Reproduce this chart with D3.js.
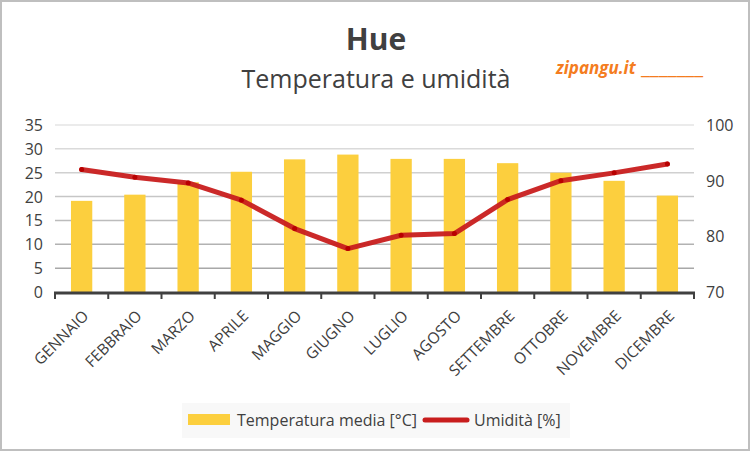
<!DOCTYPE html>
<html lang="it">
<head>
<meta charset="utf-8">
<title>Hue</title>
<script src="https://cdn.jsdelivr.net/npm/d3@7"></script>
<style>
body { margin: 0; background: #fff; }
svg { display: block; font-family: "Open Sans", sans-serif; }
</style>
</head>
<body>
<script>
// dati
var mesi = ["GENNAIO", "FEBBRAIO", "MARZO", "APRILE", "MAGGIO", "GIUGNO",
            "LUGLIO", "AGOSTO", "SETTEMBRE", "OTTOBRE", "NOVEMBRE", "DICEMBRE"];
var temperatura = [19.1, 20.4, 23.0, 25.2, 27.8, 28.8, 27.9, 27.9, 27.0, 25.0, 23.3, 20.2];
var umidita = [92.0, 90.6, 89.6, 86.5, 81.4, 77.8, 80.2, 80.5, 86.6, 90.0, 91.4, 93.0];
var tickSx = [0, 5, 10, 15, 20, 25, 30, 35];
var tickDx = [70, 80, 90, 100];

var w = 752, h = 452;
var plotL = 55, plotR = 694, plotT = 125, plotB = 292;

var svg = d3.select("body").append("svg")
    .attr("width", w)
    .attr("height", h);

// cornice
svg.append("rect")
    .attr("x", 1).attr("y", 1)
    .attr("width", w - 4).attr("height", h - 3)
    .attr("fill", "#fff")
    .attr("stroke", "#bfbfbf")
    .attr("stroke-width", 2);

var xScale = d3.scaleBand()
    .domain(mesi)
    .range([plotL, plotR])
    .paddingInner(0.6)
    .paddingOuter(0.3);

var xTicks = d3.scaleLinear().domain([0, mesi.length]).range([plotL, plotR]);

var yScale = d3.scaleLinear().domain([0, 35]).range([plotB, plotT]);
var y2Scale = d3.scaleLinear().domain([70, 100]).range([plotB, plotT]);

// griglia (più scura verso il basso)
var gridCol = d3.scaleLinear().domain([0, 35]).range(["#9e9e9e", "#e4e4e4"]);
svg.append("g").selectAll("line")
    .data(tickSx.filter(function(d) { return d > 0; }))
    .enter().append("line")
    .attr("x1", plotL).attr("x2", plotR)
    .attr("y1", function(d) { return yScale(d); })
    .attr("y2", function(d) { return yScale(d); })
    .attr("stroke", function(d) { return gridCol(d); })
    .attr("stroke-width", 1.5);

// barre
svg.append("g").selectAll("rect")
    .data(temperatura)
    .enter().append("rect")
    .attr("x", function(d, i) { return xScale(mesi[i]); })
    .attr("y", function(d) { return yScale(d); })
    .attr("width", xScale.bandwidth())
    .attr("height", function(d) { return plotB - yScale(d); })
    .attr("fill", "#fccf3e");

// asse x
svg.append("line")
    .attr("x1", plotL - 1).attr("x2", plotR + 1)
    .attr("y1", plotB + 1).attr("y2", plotB + 1)
    .attr("stroke", "#404040").attr("stroke-width", 3);
svg.append("g").selectAll("line")
    .data(d3.range(mesi.length + 1))
    .enter().append("line")
    .attr("x1", function(d) { return xTicks(d); })
    .attr("x2", function(d) { return xTicks(d); })
    .attr("y1", plotB).attr("y2", plotB + 7)
    .attr("stroke", "#404040").attr("stroke-width", 2);

svg.append("g").selectAll("text")
    .data(mesi)
    .enter().append("text")
    .attr("transform", function(d) {
        return "translate(" + (xScale(d) + xScale.bandwidth() / 2 + 8) + "," + (plotB + 25) + ") rotate(-45)";
    })
    .attr("text-anchor", "end")
    .attr("font-size", 15.5)
    .attr("fill", "#404040")
    .text(function(d) { return d; });

// assi y
svg.append("g").selectAll("text")
    .data(tickSx)
    .enter().append("text")
    .attr("x", 43)
    .attr("y", function(d) { return yScale(d) + 6; })
    .attr("text-anchor", "end")
    .attr("font-size", 16)
    .attr("fill", "#404040")
    .text(function(d) { return d; });

svg.append("g").selectAll("text")
    .data(tickDx)
    .enter().append("text")
    .attr("x", 706)
    .attr("y", function(d) { return y2Scale(d) + 6; })
    .attr("font-size", 16)
    .attr("fill", "#404040")
    .text(function(d) { return d; });

// linea umidità
var linea = d3.line()
    .x(function(d, i) { return xScale(mesi[i]) + xScale.bandwidth() / 2; })
    .y(function(d) { return y2Scale(d); });

svg.append("path")
    .datum(umidita)
    .attr("d", linea)
    .attr("fill", "none")
    .attr("stroke", "#c81d1d")
    .attr("stroke-opacity", 0.95)
    .attr("stroke-width", 5)
    .attr("stroke-linecap", "round")
    .attr("stroke-linejoin", "round");

svg.append("g").selectAll("circle")
    .data(umidita)
    .enter().append("circle")
    .attr("cx", function(d, i) { return xScale(mesi[i]) + xScale.bandwidth() / 2; })
    .attr("cy", function(d) { return y2Scale(d); })
    .attr("r", 2.5)
    .attr("fill", "#b80000");

// titoli
svg.append("text")
    .attr("x", 376).attr("y", 50)
    .attr("text-anchor", "middle")
    .attr("font-size", 30)
    .attr("font-weight", "bold")
    .attr("fill", "#404040")
    .text("Hue");

svg.append("text")
    .attr("x", 376).attr("y", 88)
    .attr("text-anchor", "middle")
    .attr("font-size", 25)
    .attr("fill", "#404040")
    .text("Temperatura e umidità");

svg.append("text")
    .attr("x", 556).attr("y", 74)
    .attr("font-size", 17)
    .attr("font-weight", "bold")
    .attr("font-style", "italic")
    .attr("fill", "#f47c20")
    .text("zipangu.it");
svg.append("text")
    .attr("x", 641).attr("y", 74)
    .attr("font-size", 17)
    .attr("font-weight", "bold")
    .attr("fill", "#f47c20")
    .attr("textLength", 62)
    .attr("lengthAdjust", "spacingAndGlyphs")
    .text("_______");

// legenda
svg.append("rect")
    .attr("x", 182).attr("y", 403)
    .attr("width", 388).attr("height", 35)
    .attr("fill", "#f8f8f8");
svg.append("rect")
    .attr("x", 188).attr("y", 414)
    .attr("width", 42).attr("height", 11)
    .attr("fill", "#fccf3e");
svg.append("text")
    .attr("x", 237).attr("y", 426)
    .attr("font-size", 16)
    .attr("fill", "#404040")
    .text("Temperatura media [°C]");
svg.append("line")
    .attr("x1", 425).attr("x2", 467)
    .attr("y1", 420).attr("y2", 420)
    .attr("stroke", "#c81d1d")
    .attr("stroke-width", 5)
    .attr("stroke-linecap", "round");
svg.append("text")
    .attr("x", 474).attr("y", 426)
    .attr("font-size", 16)
    .attr("fill", "#404040")
    .text("Umidità [%]");
</script>
</body>
</html>
